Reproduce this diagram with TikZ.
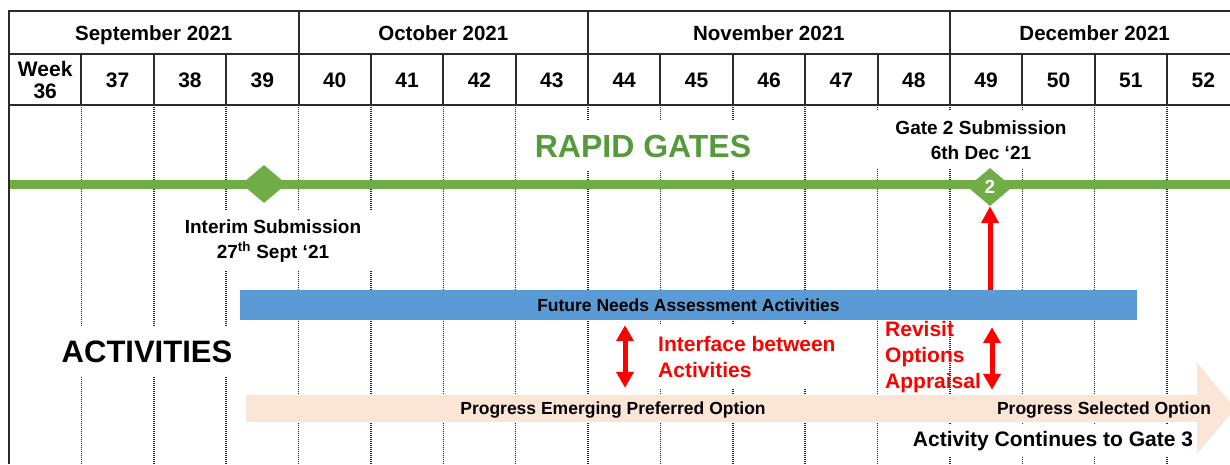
\documentclass[tikz,border=0pt]{standalone}
\usepackage{fontspec}
\setmainfont{Liberation Sans}
\usetikzlibrary{arrows.meta,shapes.geometric}
\definecolor{gateGreen}{HTML}{70AD47}
\definecolor{titleGreen}{HTML}{559A3C}
\definecolor{barBlue}{HTML}{5B9BD5}
\definecolor{barPeach}{HTML}{FBE5D6}
\definecolor{ruleGrey}{HTML}{2B2B2B}

\begin{document}
\begin{tikzpicture}[x=1pt, y=-1pt,
    rule/.style={draw=ruleGrey, line width=2pt},
    dotline/.style={draw=black!85, line width=1.5pt, dash pattern=on 1pt off 1pt},
    hdr/.style={font=\bfseries\fontsize{20.5}{22}\selectfont, align=center, inner sep=0pt, text height=15pt, text depth=0pt},
    wk/.style={font=\bfseries\fontsize{21}{22}\selectfont, align=center, inner sep=0pt},
    cover/.style={fill=white, inner sep=0pt, align=center, font=\bfseries\fontsize{19}{24.5}\selectfont},
    gate/.style={diamond, fill=gateGreen, minimum width=45pt, minimum height=38pt, inner sep=0pt},
    barlabel/.style={font=\bfseries\fontsize{17.5}{20}\selectfont, inner sep=0pt},
    redlabel/.style={font=\bfseries\fontsize{21}{26}\selectfont, text=red, align=left, inner sep=0pt},
    upArrow/.style={red, line width=5pt, -{Triangle[width=17pt,length=17pt]}},
    bothArrow/.style={red, line width=5pt, {Triangle[width=17pt,length=16pt]}-{Triangle[width=17pt,length=16pt]}}]

    \useasboundingbox (0,0) rectangle (1230,464);
    \clip (0,0) rectangle (1230,464);
    \fill[white] (0,0) rectangle (1230,464);

    % week grid
    \foreach \k in {1,...,16}
        \draw[dotline] (9+72.38*\k,105) -- (9+72.38*\k,464);

    \draw[rule] (1239,11) -- (9,11) -- (9,464);
    \draw[rule] (9,54) -- (1239,54);
    \draw[rule] (9,105) -- (1239,105);
    \foreach \k in {1,...,16}
        \draw[rule] (9+72.38*\k,54) -- (9+72.38*\k,105);
    \foreach \k in {4,8,13}
        \draw[rule] (9+72.38*\k,11) -- (9+72.38*\k,54);

    \node[hdr] at (153.8,33) (sep) {September 2021};
    \node[hdr] at (443.3,33) (oct) {October 2021};
    \node[hdr] at (768.8,33) (nov) {November 2021};
    \node[hdr] at (1094.7,33) (dec) {December 2021};

    \node[wk] at (45.2,80) (w36) {Week\\36};
    \foreach \n [count=\k] in {37,...,52}
        \node[wk] at (45.2+72.38*\k,80) (w\n) {\n};

    % labels that hide the grid
    \node[cover, font=\bfseries\fontsize{32}{34}\selectfont, text=titleGreen, minimum width=240pt, minimum height=50pt] at (643,146) (rapid) {RAPID GATES};
    \node[cover, minimum width=215pt, minimum height=58pt] at (981,140) (g2lbl) {Gate 2 Submission\\6th Dec ‘21};
    \node[cover, minimum width=200pt, minimum height=60pt] at (273,241) (intlbl) {Interim Submission\\27\textsuperscript{th} Sept ‘21};
    \node[cover, font=\bfseries\fontsize{31}{33}\selectfont, minimum width=185pt, minimum height=50pt] at (147,352) (act) {ACTIVITIES};
    \node[redlabel, fill=white, inner xsep=12pt, minimum height=64pt, anchor=west] at (646,357) (iflbl) {Interface between\\Activities};
    \node[cover, font=\bfseries\fontsize{21}{22}\selectfont, minimum height=32pt] at (1053,441) (cont) {Activity Continues to Gate 3};

    % gates
    \draw[gateGreen, line width=9pt] (10,184) -- (1239,184);
    \node[gate] at (264,184) (g1) {};
    \node[gate, text=white, font=\bfseries\fontsize{19}{19}\selectfont] at (990,187) (g2) {2};

    % activities
    \node[fill=barBlue, minimum width=897pt, minimum height=30pt, inner sep=0pt] at (688.5,305) (fna) {};
    \node[barlabel] at (fna) (fnalbl) {Future Needs Assessment Activities};

    \node[fill=barPeach, minimum width=951pt, minimum height=27pt, inner sep=0pt] at (721.5,408.5) (prog) {};
    \fill[barPeach] (prog.north east) -- ++(0,-32) -- (1235,408.5) -- (1197,454) -- (prog.south east) -- cycle;
    \node[barlabel] at (613,410) (emerg) {Progress Emerging Preferred Option};
    \node[barlabel] at (1104,410) (selec) {Progress Selected Option};

    \coordinate (ifx) at (625,0);
    \coordinate (rvx) at (992,0);
    \draw[upArrow] (g2 |- fna.north) -- (g2.south);
    \draw[bothArrow, shorten <=5pt, shorten >=7pt] (ifx |- fna.south) -- (ifx |- prog.north);
    \draw[bothArrow, shorten <=7pt, shorten >=5pt] (rvx |- fna.south) -- (rvx |- prog.north);

    \node[redlabel, anchor=west] at (885,357) (rvlbl) {Revisit\\Options\\Appraisal};
\end{tikzpicture}
\end{document}
